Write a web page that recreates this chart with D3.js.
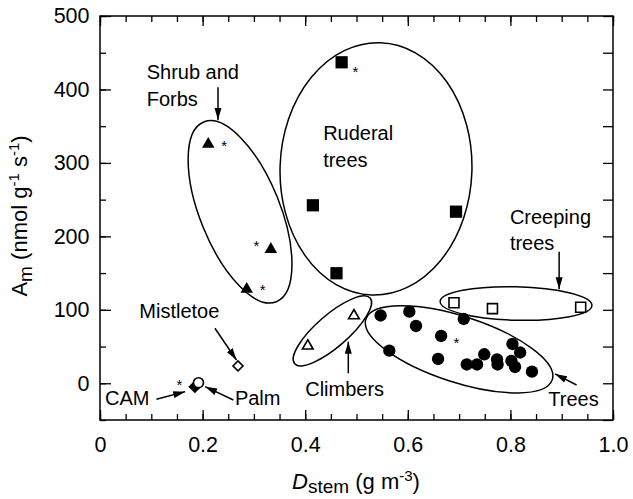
<!DOCTYPE html>
<html lang="en">
<head>
<meta charset="UTF-8">
<title>Am vs Dstem</title>
<script src="https://d3js.org/d3.v7.min.js"></script>
<style>
    body { margin: 0; background: #fff; }
    svg { font-family: "Liberation Sans", Arial, sans-serif; }
    .tick text { font-size: 21.5px; fill: #000; }
    .note { font-size: 20px; fill: #000; }
    .title { font-size: 22px; fill: #000; }
    .ring { fill: none; stroke: #000; stroke-width: 1.5; }
</style>
</head>
<body>
<div id="chart"></div>
<script>
// values: [Dstem, Am]
const trees = [
    [0.547, 92.3], [0.603, 97.5], [0.616, 78.0], [0.665, 64.4], [0.709, 87.5],
    [0.564, 44.4], [0.659, 33.1], [0.715, 25.6], [0.735, 25.6], [0.749, 39.5],
    [0.774, 32.4], [0.775, 25.6], [0.804, 53.5], [0.819, 41.9], [0.802, 30.4],
    [0.809, 22.2], [0.842, 15.8]
];
const creepingTrees = [[0.690, 109.7], [0.765, 101.6], [0.937, 103.5]];
const ruderalTrees = [[0.471, 437], [0.415, 242.3], [0.694, 233.6], [0.461, 149.8]];
const shrubsForbs = [[0.211, 325.4], [0.333, 182.4], [0.286, 128]];
const climbers = [[0.405, 50.8], [0.495, 92]];
const mistletoe = [[0.269, 23.6]];
const cam = [[0.185, -4.6]];
const palm = [[0.192, 0.8]];

// asterisks next to some points
const stars = [[0.242, 329], [0.305, 192.8], [0.317, 132.9], [0.498, 429.7], [0.695, 59.9], [0.155, 3.5]];

const xMajor = [0, 0.2, 0.4, 0.6, 0.8, 1.0];
const xLabels = ["0", "0.2", "0.4", "0.6", "0.8", "1.0"];
const xMinor = d3.range(0, 1.001, 0.05);
const yMajor = [0, 100, 200, 300, 400, 500];
const yMinor = d3.range(-50, 501, 50);

// group outlines: centre in data units, semi-axes in x units, angle in degrees
const rings = [
    {cx: 0.273, cy: 233.4, a: 0.189, b: 0.078, angle: 68},
    {cx: 0.538, cy: 291.9, a: 0.187, b: 0.246, angle: 2},
    {cx: 0.811, cy: 108.6, a: 0.148, b: 0.0326, angle: 1.5},
    {cx: 0.453, cy: 71.4, a: 0.0975, b: 0.0312, angle: -41},
    {cx: 0.700, cy: 46.2, a: 0.191, b: 0.0643, angle: 18}
];

const arrows = [
    [[0.230, 403], [0.230, 358.5]],
    [[0.895, 179.2], [0.895, 128]],
    [[0.484, 13.6], [0.484, 56.6]],
    [[0.929, -2.3], [0.887, 12.7]],
    [[0.224, 74.9], [0.266, 31.7]],
    [[0.110, -21.8], [0.166, -11.4]],
    [[0.260, -22.7], [0.205, -4.6]]
];

const notes = [
    {x: 0.091, y: 414.4, text: "Shrub and"},
    {x: 0.091, y: 377.5, text: "Forbs"},
    {x: 0.435, y: 331.3, text: "Ruderal"},
    {x: 0.435, y: 294.6, text: "trees"},
    {x: 0.799, y: 216.9, text: "Creeping"},
    {x: 0.799, y: 181.5, text: "trees"},
    {x: 0.0766, y: 88.5, text: "Mistletoe"},
    {x: 0.40, y: -18, text: "Climbers"},
    {x: 0.874, y: -30.5, text: "Trees"},
    {x: 0.0097, y: -29.5, text: "CAM"},
    {x: 0.263, y: -29.5, text: "Palm"}
];

const width = 633, height = 499;
const svg = d3.select("#chart").append("svg")
    .attr("width", width)
    .attr("height", height);

const x = d3.scaleLinear().domain([0, 1]).range([100, 613]);
const y = d3.scaleLinear().domain([-50, 500]).range([420, 16]);
const unit = x(1) - x(0);

// ticks, all pointing inward
function ticks(axis, sel, vals, size, labels) {
    const g = svg.append("g").attr("transform", sel)
        .call(axis.tickValues(vals).tickSize(-size)
            .tickFormat(labels ? (d, i) => labels[i] : ""));
    g.select(".domain").remove();
    g.selectAll(".tick line").attr("stroke", "#000").attr("stroke-width", 1.3);
    return g;
}
ticks(d3.axisBottom(x), `translate(0,${y(-50)})`, xMinor, 6);
ticks(d3.axisTop(x), `translate(0,${y(500)})`, xMinor, 6);
ticks(d3.axisBottom(x).tickPadding(16.5), `translate(0,${y(-50)})`, xMajor, 10, xLabels);
ticks(d3.axisTop(x), `translate(0,${y(500)})`, xMajor, 10);
ticks(d3.axisLeft(y), `translate(${x(0)},0)`, yMinor, 6);
ticks(d3.axisLeft(y).tickPadding(10.5), `translate(${x(0)},0)`, yMajor, 11, yMajor.map(String));
ticks(d3.axisRight(y), `translate(${x(1)},0)`, yMinor, 10);

svg.selectAll(".tick text").attr("font-family", null).attr("font-size", null);

svg.append("rect")
    .attr("x", x(0)).attr("y", y(500))
    .attr("width", x(1) - x(0)).attr("height", y(-50) - y(500))
    .attr("fill", "none").attr("stroke", "#000").attr("stroke-width", 1.5);

// outlines
svg.selectAll(".ring").data(rings).join("ellipse")
    .attr("class", "ring")
    .attr("rx", d => d.a * unit)
    .attr("ry", d => d.b * unit)
    .attr("transform", d => `translate(${x(d.cx)},${y(d.cy)}) rotate(${d.angle})`);

// arrows
svg.append("defs").append("marker")
    .attr("id", "head")
    .attr("markerUnits", "userSpaceOnUse")
    .attr("markerWidth", 13).attr("markerHeight", 8)
    .attr("refX", 12).attr("refY", 4)
    .attr("orient", "auto")
    .append("path").attr("d", "M0,0.5 L12,4 L0,7.5 Z").attr("fill", "#000");

svg.selectAll(".arrow").data(arrows).join("line")
    .attr("class", "arrow")
    .attr("x1", d => x(d[0][0])).attr("y1", d => y(d[0][1]))
    .attr("x2", d => x(d[1][0])).attr("y2", d => y(d[1][1]))
    .attr("stroke", "#000").attr("stroke-width", 1.5)
    .attr("marker-end", "url(#head)");

// points
function plot(data, type, size, filled, rot) {
    svg.append("g").selectAll("path").data(data).join("path")
        .attr("d", d3.symbol().type(type).size(size))
        .attr("transform", d => `translate(${x(d[0])},${y(d[1])})` + (rot ? " rotate(45)" : ""))
        .attr("fill", filled ? "#000" : "#fff")
        .attr("stroke", "#000")
        .attr("stroke-width", filled ? 0 : 1.6);
}
plot(trees, d3.symbolCircle, 120, true);
plot(creepingTrees, d3.symbolSquare, 100, false);
plot(ruderalTrees, d3.symbolSquare, 150, true);
plot(shrubsForbs, d3.symbolTriangle, 68, true);
plot(climbers, d3.symbolTriangle, 50, false);
plot(mistletoe, d3.symbolSquare, 50, false, true);
plot(cam, d3.symbolSquare, 85, true, true);
plot(palm, d3.symbolCircle, 78, false);

svg.append("g").selectAll("text").data(stars).join("text")
    .attr("class", "note")
    .attr("x", d => x(d[0]))
    .attr("y", d => y(d[1]) + 9)
    .attr("text-anchor", "middle")
    .style("font-size", "15px")
    .text("*");

svg.append("g").selectAll("text").data(notes).join("text")
    .attr("class", "note")
    .attr("x", d => x(d.x))
    .attr("y", d => y(d.y))
    .text(d => d.text);

// axis titles
const xt = svg.append("text").attr("class", "title")
    .attr("x", 356).attr("y", 489).attr("text-anchor", "middle");
xt.append("tspan").attr("font-style", "italic").text("D");
xt.append("tspan").attr("dy", 4).style("font-size", "19px").text("stem");
xt.append("tspan").attr("dy", -4).text(" (g m");
xt.append("tspan").attr("dy", -8).style("font-size", "15px").text("-3");
xt.append("tspan").attr("dy", 8).text(")");

const yt = svg.append("text").attr("class", "title")
    .attr("transform", "translate(27,216) rotate(-90)")
    .attr("text-anchor", "middle");
yt.append("tspan").text("A");
yt.append("tspan").attr("dy", 5).style("font-size", "19px").text("m");
yt.append("tspan").attr("dy", -5).text(" (nmol g");
yt.append("tspan").attr("dy", -8).style("font-size", "15px").text("-1");
yt.append("tspan").attr("dy", 8).text(" s");
yt.append("tspan").attr("dy", -8).style("font-size", "15px").text("-1");
yt.append("tspan").attr("dy", 8).text(")");
</script>
</body>
</html>
